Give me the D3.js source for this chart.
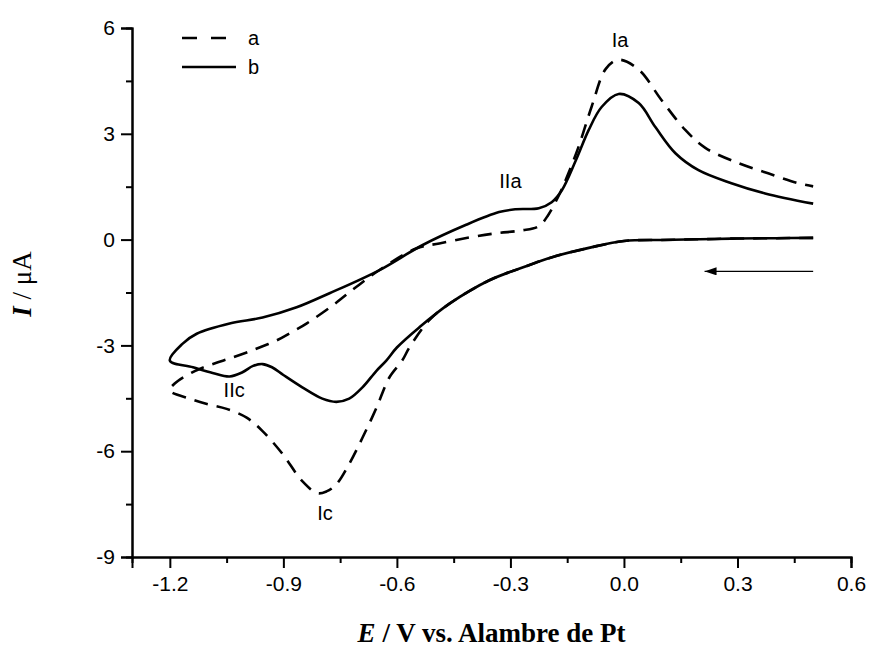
<!DOCTYPE html>
<html>
<head>
<meta charset="utf-8">
<script src="https://cdn.jsdelivr.net/npm/d3@7"></script>
<style>
  body { margin: 0; background: #fff; }
  svg { display: block; }
</style>
</head>
<body>
<div id="chart"></div>
<script>
// curve a (dashed): cathodic scan from 0.5 V down to -1.2 V, then anodic back to 0.5 V
const potA = [0.5, 0.4, 0.3, 0.2, 0.1, 0.0, -0.087, -0.19, -0.27, -0.357, -0.46, -0.515, -0.567, -0.586, -0.62, -0.654, -0.691, -0.726, -0.76, -0.786, -0.81, -0.85, -0.902, -0.955, -0.997, -1.05, -1.102, -1.147, -1.2,
  -1.187, -1.142, -1.113, -1.073, -1.042, -0.997, -0.963, -0.918, -0.884, -0.839, -0.77, -0.712, -0.647, -0.549, -0.488, -0.409, -0.338, -0.27, -0.225, -0.2, -0.17, -0.154, -0.12, -0.085, -0.048, -0.014, 0.039, 0.099, 0.162, 0.215, 0.302, 0.381, 0.46, 0.5]
const curA = [0.05, 0.04, 0.03, 0.01, -0.01, -0.04, -0.22, -0.5, -0.8, -1.16, -1.81, -2.29, -3.06, -3.43, -3.91, -4.77, -5.62, -6.36, -6.94, -7.14, -7.19, -6.85, -6.08, -5.43, -5.05, -4.8, -4.66, -4.51, -4.28,
  -4.08, -3.77, -3.63, -3.48, -3.37, -3.2, -3.06, -2.86, -2.66, -2.38, -1.87, -1.38, -0.87, -0.25, -0.11, 0.06, 0.18, 0.26, 0.38, 0.7, 1.3, 1.69, 2.63, 3.78, 4.84, 5.1, 4.82, 3.96, 3.11, 2.6, 2.17, 1.88, 1.6, 1.51]

// curve b (solid)
const potB = [0.5, 0.4, 0.3, 0.2, 0.1, 0.0, -0.087, -0.19, -0.27, -0.357, -0.46, -0.541, -0.6, -0.628, -0.654, -0.691, -0.726, -0.76, -0.797, -0.85, -0.9, -0.93, -0.955, -0.98, -1.008, -1.042, -1.087, -1.139, -1.2,
  -1.166, -1.129, -1.042, -0.955, -0.865, -0.778, -0.647, -0.533, -0.417, -0.33, -0.286, -0.225, -0.191, -0.164, -0.127, -0.093, -0.059, -0.014, 0.039, 0.083, 0.136, 0.197, 0.284, 0.373, 0.5]
const curB = [0.05, 0.04, 0.03, 0.01, -0.01, -0.04, -0.22, -0.5, -0.8, -1.16, -1.81, -2.49, -3.06, -3.43, -3.72, -4.19, -4.51, -4.6, -4.51, -4.19, -3.84, -3.62, -3.53, -3.58, -3.76, -3.88, -3.78, -3.62, -3.43,
  -2.95, -2.67, -2.38, -2.21, -1.92, -1.52, -0.87, -0.16, 0.42, 0.78, 0.86, 0.89, 1.06, 1.4, 2.25, 3.11, 3.76, 4.13, 3.87, 3.19, 2.45, 1.97, 1.6, 1.31, 1.02]

const xTicks = [-1.2, -0.9, -0.6, -0.3, 0.0, 0.3, 0.6]
const xMinor = [-1.05, -0.75, -0.45, -0.15, 0.15, 0.45]
const yTicks = [-9, -6, -3, 0, 3, 6]
const yMinor = [-7.5, -4.5, -1.5, 1.5, 4.5]

const peakLabels = ["Ia", "IIa", "IIc", "Ic"]
const peakPot = [-0.01, -0.3, -1.03, -0.79]
const peakCur = [5.45, 1.45, -4.45, -7.95]

const width = 871, height = 649
const margin = {top: 28, right: 20, bottom: 92, left: 132}

const svg = d3.select("#chart")
  .append("svg")
  .attr("width", width)
  .attr("height", height)

const x = d3.scaleLinear().domain([-1.3, 0.6]).range([margin.left, 851])
const y = d3.scaleLinear().domain([-9, 6]).range([557, margin.top])

// axes
const gx = svg.append("g")
  .attr("transform", "translate(0," + y(-9) + ")")
gx.append("g")
  .call(d3.axisBottom(x).tickValues(xMinor).tickSize(6).tickFormat(""))
gx.append("g")
  .call(d3.axisBottom(x).tickValues(xTicks).tickSize(11).tickPadding(8).tickFormat(d => d.toFixed(1)))

const gy = svg.append("g")
  .attr("transform", "translate(" + x(-1.3) + ",0)")
gy.append("g")
  .call(d3.axisLeft(y).tickValues(yMinor).tickSize(6).tickFormat(""))
gy.append("g")
  .call(d3.axisLeft(y).tickValues(yTicks).tickSize(11).tickPadding(6).tickFormat(d => String(d)))

svg.selectAll(".domain").attr("stroke", "#000").attr("stroke-width", 2)
svg.selectAll(".tick line").attr("stroke", "#000").attr("stroke-width", 2)
svg.selectAll(".tick text")
  .attr("font-family", "Liberation Sans, Arial, sans-serif")
  .attr("font-size", 21)
  .attr("fill", "#000")

// curves
const line = d3.line()
  .x(d => x(d[0]))
  .y(d => y(d[1]))
  .curve(d3.curveCatmullRom.alpha(0.5))

svg.append("path")
  .datum(potB.map((p, i) => [p, curB[i]]))
  .attr("d", line)
  .attr("fill", "none")
  .attr("stroke", "#000")
  .attr("stroke-width", 2.6)

svg.append("path")
  .datum(potA.map((p, i) => [p, curA[i]]))
  .attr("d", line)
  .attr("fill", "none")
  .attr("stroke", "#000")
  .attr("stroke-width", 2.6)
  .attr("stroke-dasharray", "14,9")

// peak labels
svg.selectAll(".peak")
  .data(peakLabels)
  .join("text")
  .attr("class", "peak")
  .attr("x", (d, i) => x(peakPot[i]))
  .attr("y", (d, i) => y(peakCur[i]))
  .attr("text-anchor", "middle")
  .attr("font-family", "Liberation Sans, Arial, sans-serif")
  .attr("font-size", 20)
  .text(d => d)

// scan direction arrow
svg.append("defs").append("marker")
  .attr("id", "head")
  .attr("viewBox", "0 0 12 8")
  .attr("refX", 12).attr("refY", 4)
  .attr("markerWidth", 12).attr("markerHeight", 8)
  .attr("markerUnits", "userSpaceOnUse")
  .attr("orient", "auto")
  .append("path")
  .attr("d", "M0,0 L12,4 L0,8 Z")
  .attr("fill", "#000")

svg.append("line")
  .attr("x1", x(0.5)).attr("x2", x(0.213))
  .attr("y1", y(-0.9)).attr("y2", y(-0.9))
  .attr("stroke", "#000")
  .attr("stroke-width", 1.2)
  .attr("marker-end", "url(#head)")

// legend
const legend = svg.append("g").attr("transform", "translate(182,38)")
const legendKeys = ["a", "b"]
legendKeys.forEach((k, i) => {
  legend.append("line")
    .attr("x1", 0).attr("x2", 54)
    .attr("y1", i * 29).attr("y2", i * 29)
    .attr("stroke", "#000")
    .attr("stroke-width", 2.6)
    .attr("stroke-dasharray", k == "a" ? "15,14" : null)
  legend.append("text")
    .attr("x", 66).attr("y", i * 29 + 7)
    .attr("font-family", "Liberation Sans, Arial, sans-serif")
    .attr("font-size", 20)
    .text(k)
})

// axis titles
const xt = svg.append("text")
  .attr("x", (x(-1.3) + x(0.6)) / 2)
  .attr("y", 642)
  .attr("text-anchor", "middle")
  .attr("font-family", "Liberation Serif, Times New Roman, serif")
  .attr("font-weight", "bold")
  .attr("font-size", 27)
xt.append("tspan").attr("font-style", "italic").text("E")
xt.append("tspan").text(" / V vs. Alambre de Pt")

const yt = svg.append("text")
  .attr("transform", "translate(31,284) rotate(-90)")
  .attr("text-anchor", "middle")
  .attr("font-family", "Liberation Serif, Times New Roman, serif")
  .attr("font-size", 27)
yt.append("tspan").attr("font-style", "italic").attr("font-weight", "bold").text("I")
yt.append("tspan").text(" / μA")
</script>
</body>
</html>
